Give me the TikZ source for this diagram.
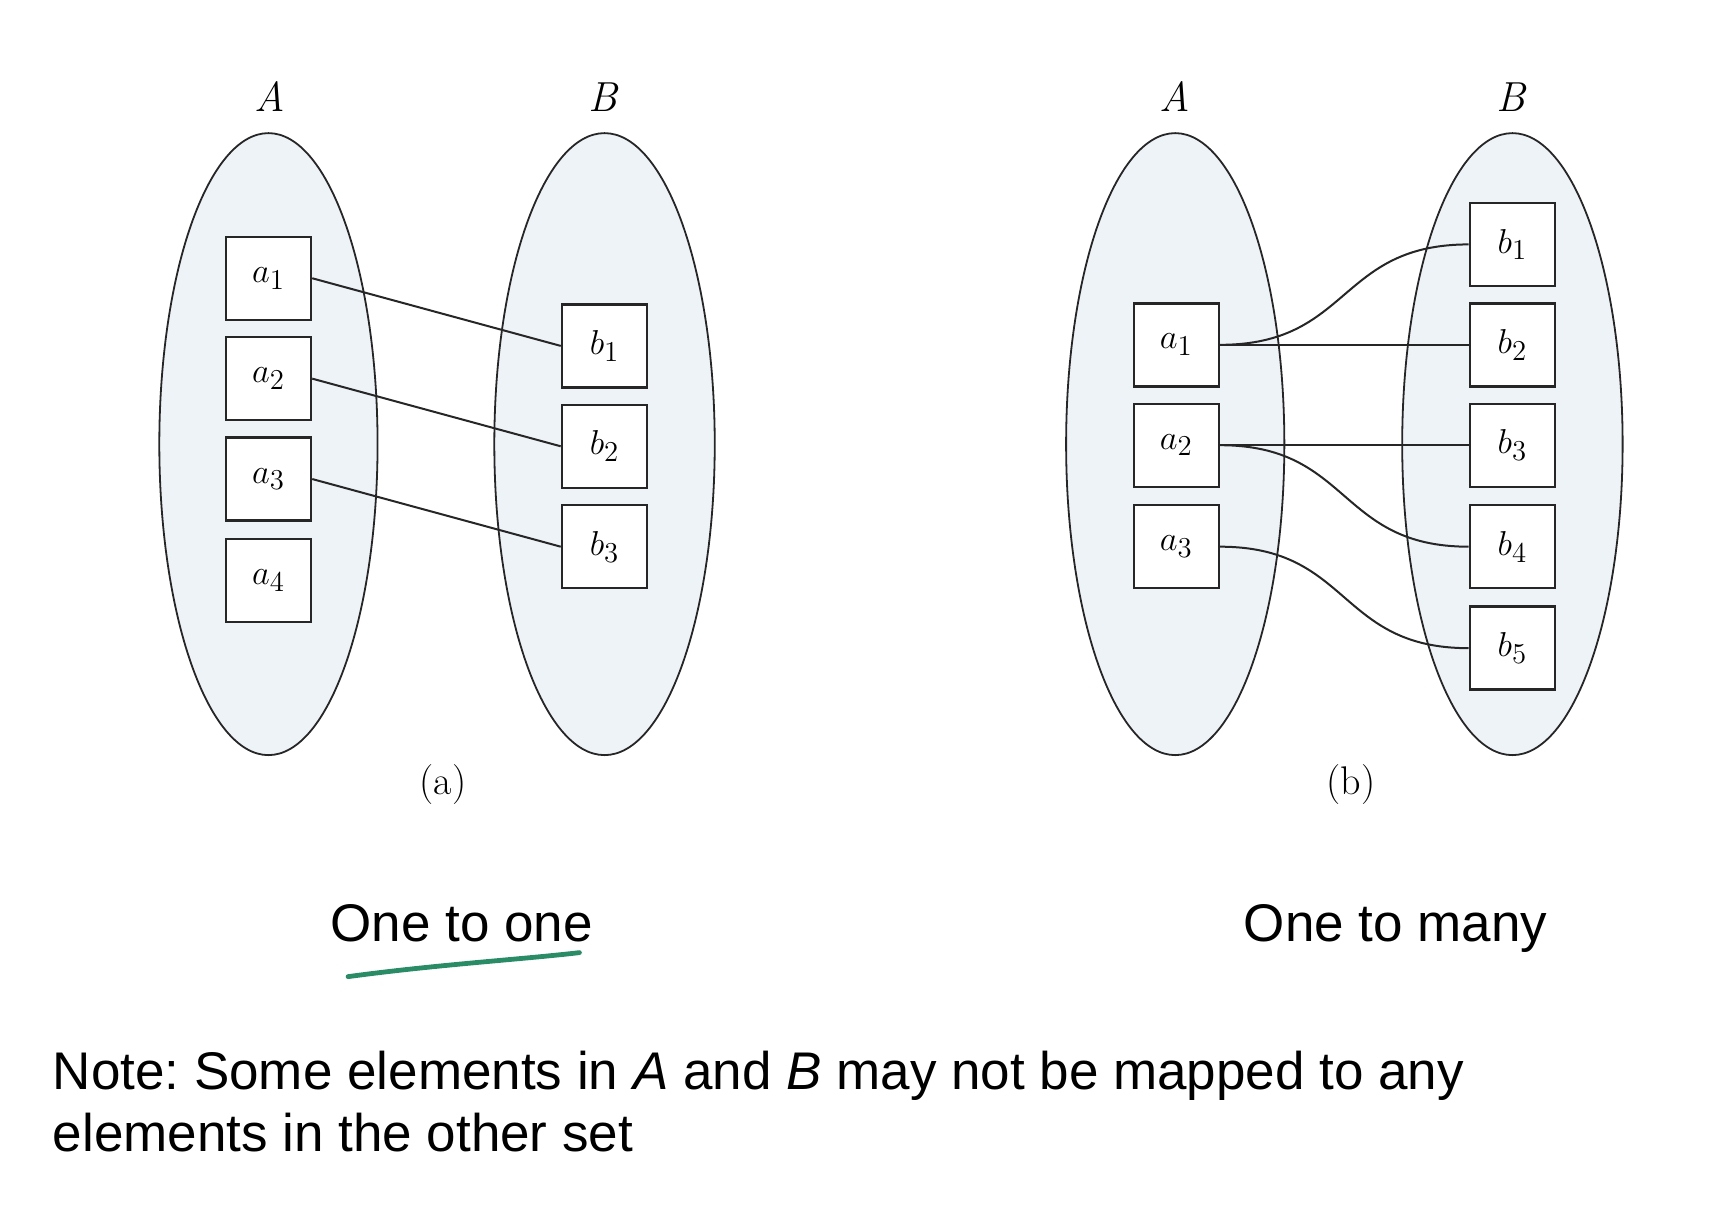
\documentclass[tikz,border=0pt]{standalone}
\usepackage{fontspec}
\newfontfamily\notefont{Liberation Sans}
\definecolor{setblue}{HTML}{EEF3F8}
\definecolor{markgreen}{HTML}{2A8C66}
\frenchspacing
\begin{document}
\begin{tikzpicture}[x=0.5456pt,y=-0.5456pt,
  setshape/.style={draw=black!85,line width=0.9pt,fill=setblue},
  elem/.style={draw=black!85,line width=1.2pt,fill=white,minimum width=42.6pt,minimum height=41.5pt,inner sep=0pt,font=\fontsize{19}{21}\selectfont},
  link/.style={draw=black!85,line width=1pt},
  setlabel/.style={font=\fontsize{21}{24}\selectfont\itshape,anchor=base,inner sep=0pt},
  caption/.style={font=\fontsize{20}{24}\selectfont,inner sep=0pt},
  title/.style={font=\notefont\fontsize{26.5}{30}\selectfont,anchor=base,inner sep=0pt},
  note/.style={font=\notefont\fontsize{26.5}{30}\selectfont,anchor=base west,inner sep=0pt}
]
\useasboundingbox (0,0) rectangle (1568,1112);

% ---------- panel (a) ----------
\draw[setshape] (246,407) ellipse [x radius=100, y radius=285];
\draw[setshape] (554,407) ellipse [x radius=101, y radius=285];
\node[setlabel] (lA1) at (247,102) {A};
\node[setlabel] (lB1) at (553,102) {B};

\node[elem] (pa1) at (246,255) {$a_1$};
\node[elem] (pa2) at (246,347) {$a_2$};
\node[elem] (pa3) at (246,439) {$a_3$};
\node[elem] (pa4) at (246,532) {$a_4$};
\node[elem] (pb1) at (554,317) {$b_1$};
\node[elem] (pb2) at (554,409) {$b_2$};
\node[elem] (pb3) at (554,501) {$b_3$};

\draw[link] (pa1.east) -- (pb1.west);
\draw[link] (pa2.east) -- (pb2.west);
\draw[link] (pa3.east) -- (pb3.west);

\node[caption] (capa) at (406,719) {(a)};

% ---------- panel (b) ----------
\draw[setshape] (1077,407) ellipse [x radius=100, y radius=285];
\draw[setshape] (1386,407) ellipse [x radius=101, y radius=285];
\node[setlabel] (lA2) at (1077,102) {A};
\node[setlabel] (lB2) at (1385,102) {B};

\node[elem] (qa1) at (1078,316) {$a_1$};
\node[elem] (qa2) at (1078,408) {$a_2$};
\node[elem] (qa3) at (1078,501) {$a_3$};
\node[elem] (qb1) at (1386,224) {$b_1$};
\node[elem] (qb2) at (1386,316) {$b_2$};
\node[elem] (qb3) at (1386,408) {$b_3$};
\node[elem] (qb4) at (1386,501) {$b_4$};
\node[elem] (qb5) at (1386,594) {$b_5$};

\draw[link] (qa1.east) .. controls +(120,0) and +(-120,0) .. (qb1.west);
\draw[link] (qa1.east) -- (qb2.west);
\draw[link] (qa2.east) -- (qb3.west);
\draw[link] (qa2.east) .. controls +(120,0) and +(-120,0) .. (qb4.west);
\draw[link] (qa3.east) .. controls +(120,0) and +(-120,0) .. (qb5.west);

\node[caption] (capb) at (1238,719) {(b)};

% ---------- texts ----------
\node[title] (t1) at (423,863) {One to one};
\node[title] (t2) at (1279,863) {One to many};
\draw[markgreen,line width=2.4pt,line cap=round] (319,895) .. controls (400,884) and (480,879) .. (531,873);

\node[note] (n1) at (48,998) {Note: Some elements in \textit{A} and \textit{B} may not be mapped to any};
\node[note] (n2) at (48,1055) {elements in the other set};
\end{tikzpicture}
\end{document}
